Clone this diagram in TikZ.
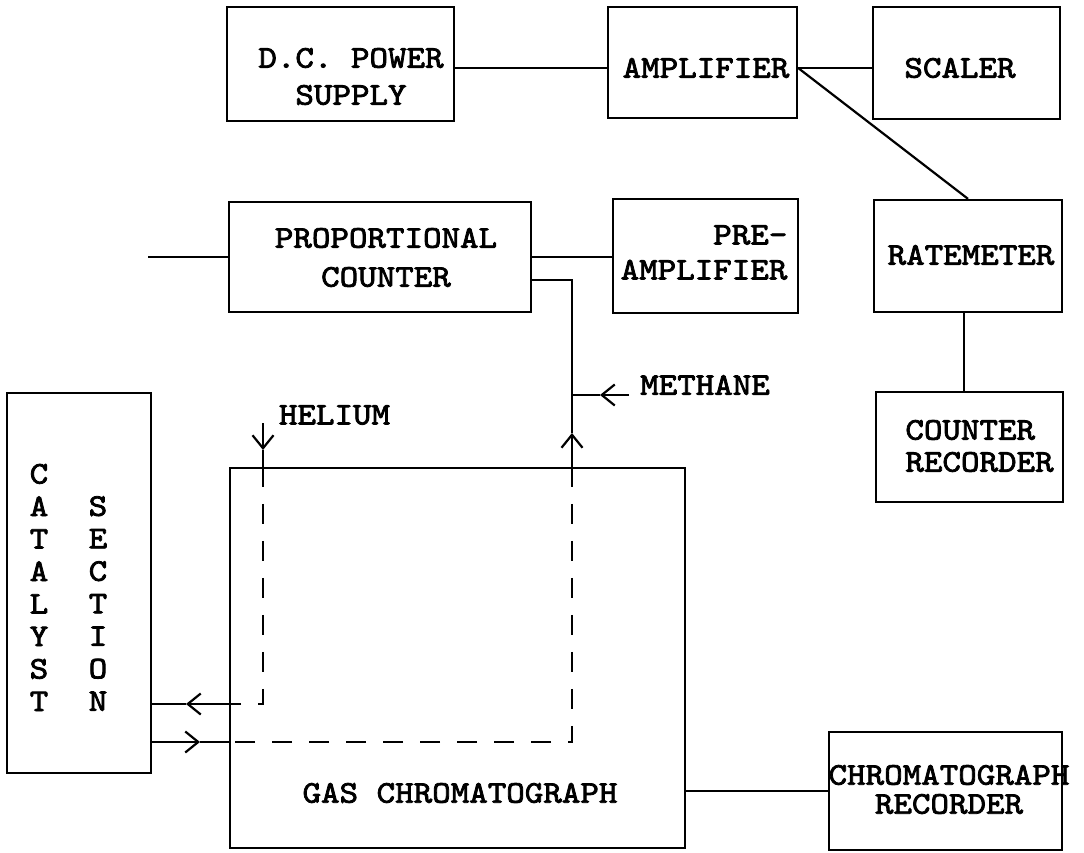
\documentclass[tikz,border=0pt]{standalone}
\usepackage{fontspec}
\newfontfamily\tw[FakeStretch=1.12,FakeBold=2.5]{lmmono10-regular.otf}
\usetikzlibrary{arrows.meta,calc}
\begin{document}
\begin{tikzpicture}[x=1pt,y=-1pt,
  box/.style={draw, line width=2.3pt, inner sep=0pt},
  lbl/.style={font=\tw\fontsize{31.5}{#1}\selectfont, inner sep=0pt, align=center},
  lbl/.default=36,
  ln/.style={line width=2.2pt},
  arr/.style={ln, -{Straight Barb[length=13pt,width=21pt]}},
  dsh/.style={ln, dash pattern=on 20pt off 17pt}]
\fill[white] (0,0) rectangle (1084,853);
\useasboundingbox (0,0) rectangle (1084,853);

% boxes
\node[box, minimum width=227pt, minimum height=114pt] (dc) at (340.5,64) {};
\node[box, minimum width=189pt, minimum height=111pt] (amp) at (702.5,62.5) {};
\node[box, minimum width=187pt, minimum height=112pt] (scaler) at (966.5,63) {};
\node[box, minimum width=302pt, minimum height=110pt] (prop) at (380,257) {};
\node[box, minimum width=185pt, minimum height=114pt] (pre) at (705.5,256) {};
\node[box, minimum width=188pt, minimum height=112pt] (rate) at (968,256) {};
\node[box, minimum width=187pt, minimum height=110pt] (crec) at (969.5,447) {};
\node[box, minimum width=144pt, minimum height=380pt] (cat) at (79,583) {};
\node[box, minimum width=455pt, minimum height=380pt] (gc) at (457.5,658) {};
\node[box, minimum width=233pt, minimum height=118pt] (chrec) at (945.5,791) {};

% labels
\node[lbl=37] (dct) at (351,76.5) {D.C. POWER\\SUPPLY};
\node[lbl] (ampt) at (706,68) {AMPLIFIER};
\node[lbl] (scalert) at (960,68) {SCALER};
\node[lbl=39] (propt) at (386,257.5) {PROPORTIONAL\\COUNTER};
\node[lbl=35, align=right] (pret) at (704,252.5) {PRE-\\AMPLIFIER};
\node[lbl] (ratet) at (971,255) {RATEMETER};
\node[lbl=32, align=left] (crect) at (979.5,446) {COUNTER\\RECORDER};
\node[lbl=32.5] (catt1) at (39,587.5) {C\\A\\T\\A\\L\\Y\\S\\T};
\node[lbl=32.5] (catt2) at (98,603.5) {S\\E\\C\\T\\I\\O\\N};
\node[lbl] (gct) at (460,793) {GAS CHROMATOGRAPH};
\node[lbl=29] (chrect) at (949,789.5) {CHROMATOGRAPH\\RECORDER};
\node[lbl] (helt) at (334.5,415) {HELIUM};
\node[lbl] (metht) at (705,385) {METHANE};

% electrical connections
\draw[ln] ([yshift=-4pt]dc.east) -- ([yshift=-5.5pt]amp.west);
\draw[ln] ([yshift=-5.5pt]amp.east) -- ([yshift=-5pt]scaler.west);
\draw[ln] ([yshift=-5.5pt]amp.east) -- (rate.north);
\draw[ln] ([xshift=-4pt]rate.south) -- ([xshift=-4pt]rate.south |- crec.north);
\coordinate (stub) at (148,257);
\draw[ln] (stub) -- (prop.west);
\draw[ln] (prop.east) -- (pre.west |- prop.east);
\draw[ln] (gc.east |- chrec.west) -- (chrec.west);

% methane / counter gas line
\coordinate (mp) at (572,280);
\coordinate (mtip) at (572,433);
\coordinate (mt) at (629,395);
\coordinate (mhead) at (600,395);
\coordinate (mc) at (572,742);
\coordinate (ma) at (200,742);
\draw[ln] (prop.east |- mp) -- (mp) -- (mtip);
\draw[arr] (mp |- gc.north) -- (mtip);
\draw[arr] (mt) -- (mhead);
\draw[ln] (mhead) -- (mp |- mhead);
\draw[dsh] (mp |- gc.north) -- (mc) -- (gc.west |- mc);
\draw[arr] (cat.east |- mc) -- (ma);
\draw[ln] (ma) -- (gc.west |- mc);

% helium line
\coordinate (ht) at (263,423);
\coordinate (hhead) at (263,450);
\coordinate (hc) at (263,704);
\coordinate (ha) at (186,704);
\draw[arr] (ht) -- (hhead);
\draw[ln] (hhead) -- (ht |- gc.north);
\draw[dsh] (ht |- gc.north) -- (hc) -- (gc.west |- hc);
\draw[arr] (gc.west |- hc) -- (ha);
\draw[ln] (ha) -- (cat.east |- hc);
\end{tikzpicture}
\end{document}
